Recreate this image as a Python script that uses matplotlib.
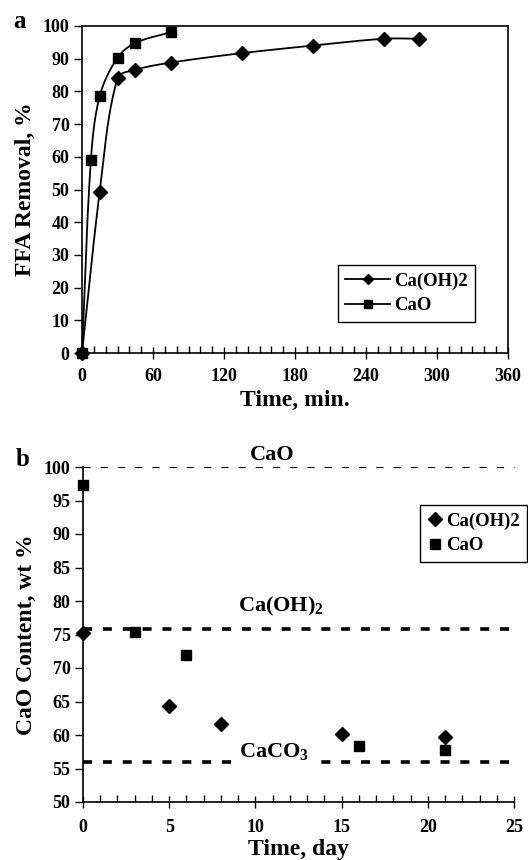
import numpy as np
import matplotlib
matplotlib.use("Agg")
import matplotlib.pyplot as plt
from matplotlib.ticker import MultipleLocator

plt.rcParams['font.family'] = ['Liberation Serif', 'DejaVu Serif']
plt.rcParams['font.weight'] = 'bold'
plt.rcParams['axes.labelweight'] = 'bold'
plt.rcParams['mathtext.fontset'] = 'custom'
plt.rcParams['mathtext.rm'] = 'Liberation Serif:bold'
plt.rcParams['mathtext.bf'] = 'Liberation Serif:bold'
plt.rcParams['mathtext.it'] = 'Liberation Serif:bold:italic'

# Panel a data
a_t_caoh2 = [0, 15, 30, 45, 75, 135, 195, 255, 285]
a_y_caoh2 = [0, 49.3, 84.0, 86.6, 88.8, 91.7, 94.0, 96.1, 96.1]
a_t_cao = [0, 7.5, 15, 30, 45, 75]
a_y_cao = [0, 59.0, 78.6, 90.3, 94.8, 98.1]

# Panel b data
b_d_caoh2 = [0, 5, 8, 15, 21]
b_y_caoh2 = [75.2, 64.4, 61.7, 60.2, 59.7]
b_d_cao = [0, 3, 6, 16, 21]
b_y_cao = [97.3, 75.3, 72.0, 58.3, 57.8]
ref_levels = [100, 75.8, 56.0]
ref_names = ['CaO', 'Ca(OH)$_\\mathbf{2}$', 'CaCO$_\\mathbf{3}$']


def smooth(ax, x, y, n=40):
    """Excel-like smoothed line computed in display space."""
    pts = ax.transData.transform(np.column_stack([x, y]))
    P = np.vstack([pts[0], pts, pts[-1]])
    out = []
    for i in range(1, len(P) - 2):
        p0, p3 = P[i], P[i + 1]
        L = np.linalg.norm(p3 - p0)
        t0 = P[i + 1] - P[i - 1]
        t1 = P[i + 2] - P[i]
        t0 = t0 / (np.linalg.norm(t0) or 1)
        t1 = t1 / (np.linalg.norm(t1) or 1)
        p1 = p0 + t0 * L / 3
        p2 = p3 - t1 * L / 3
        t = np.linspace(0, 1, n)[:, None]
        seg = (1 - t) ** 3 * p0 + 3 * (1 - t) ** 2 * t * p1 + 3 * (1 - t) * t ** 2 * p2 + t ** 3 * p3
        out.append(seg)
    out = np.vstack(out)
    d = ax.transData.inverted().transform(out)
    return d[:, 0], d[:, 1]


fig = plt.figure(figsize=(5.28, 8.6), dpi=100)

TICK = 13
LAB = 17

# ---------- Panel a ----------
ax = fig.add_axes([82 / 528, 1 - 353 / 860, 426 / 528, 327 / 860])
ax.set_xlim(0, 360)
ax.set_ylim(0, 100)
for xs, ys, m, ms, lab in [(a_t_caoh2, a_y_caoh2, 'D', 7, 'Ca(OH)2'),
                           (a_t_cao, a_y_cao, 's', 7.5, 'CaO')]:
    sx, sy = smooth(ax, xs, ys)
    ax.plot(sx, sy, color='black', lw=1.3, clip_on=False)
    ax.plot(xs, ys, linestyle='none', marker=m, ms=ms, color='black', clip_on=False)
    ax.plot([], [], color='black', lw=1.3, marker=m, ms=ms - 1.5, label=lab)
ax.xaxis.set_major_locator(MultipleLocator(60))
ax.xaxis.set_minor_locator(MultipleLocator(10))
ax.yaxis.set_major_locator(MultipleLocator(10))
ax.tick_params(axis='x', which='major', direction='inout', length=9, width=1, labelsize=TICK, pad=6)
ax.tick_params(axis='x', which='minor', direction='in', length=5, width=1)
ax.tick_params(axis='y', which='major', direction='out', length=6, width=1, labelsize=TICK, pad=3)
for lab in ax.get_xticklabels() + ax.get_yticklabels():
    lab.set_fontweight('bold')
for s in ax.spines.values():
    s.set_linewidth(1.2)
ax.set_xlabel('Time, min.', fontsize=LAB, fontweight='bold', labelpad=4)
ax.set_ylabel('FFA Removal, %', fontsize=LAB, fontweight='bold', labelpad=5)
leg = ax.legend(loc='upper right', bbox_to_anchor=(0.923, 0.269), fancybox=False,
                edgecolor='black', framealpha=1, handlelength=2.4, borderaxespad=0,
                prop={'weight': 'bold', 'size': 13.5}, handletextpad=0.2, labelspacing=0.4,
                borderpad=0.4)
leg.get_frame().set_linewidth(1.0)
fig.text(20 / 528, 1 - 22 / 860, 'a', fontsize=18, fontweight='bold', ha='center', va='center')

# ---------- Panel b ----------
bx = fig.add_axes([83 / 528, 1 - 802 / 860, 431 / 528, 335 / 860])
bx.plot(b_d_caoh2, b_y_caoh2, linestyle='none', marker='D', ms=7.5, color='black',
        label='Ca(OH)2', clip_on=False, zorder=4)
bx.plot(b_d_cao, b_y_cao, linestyle='none', marker='s', ms=6.5, color='black',
        label='CaO', clip_on=False, zorder=4)
bx.axhline(ref_levels[0], color='black', lw=0.8, linestyle=(0, (6.5, 9)), clip_on=False)
bx.axhline(ref_levels[1], color='black', lw=2.6, linestyle=(0, (2.5, 3.0)), clip_on=False)
bx.axhline(ref_levels[2], color='black', lw=2.6, linestyle=(0, (2.5, 3.0)), clip_on=False)
bx.text(11.0, 101.8, ref_names[0], fontsize=16, fontweight='bold', ha='center', va='center')
bx.text(11.5, 79.2, ref_names[1], fontsize=16, fontweight='bold', ha='center', va='center')
bx.text(11.1, 57.5, ref_names[2], fontsize=16, fontweight='bold', ha='center', va='center',
        bbox=dict(facecolor='white', edgecolor='none', pad=1.5), zorder=5)
bx.set_xlim(0, 25)
bx.set_ylim(50, 100)
bx.xaxis.set_major_locator(MultipleLocator(5))
bx.xaxis.set_minor_locator(MultipleLocator(1))
bx.yaxis.set_major_locator(MultipleLocator(5))
bx.spines['top'].set_visible(False)
bx.spines['right'].set_visible(False)
for s in bx.spines.values():
    s.set_linewidth(1.2)
bx.tick_params(axis='x', which='major', direction='inout', length=9, width=1, labelsize=TICK, pad=8)
bx.tick_params(axis='x', which='minor', direction='in', length=5, width=1)
bx.tick_params(axis='y', which='major', direction='out', length=6, width=1, labelsize=TICK, pad=3)
for lab in bx.get_xticklabels() + bx.get_yticklabels():
    lab.set_fontweight('bold')
bx.set_xlabel('Time, day', fontsize=LAB, fontweight='bold', labelpad=2)
bx.set_ylabel('CaO Content, wt %', fontsize=LAB, fontweight='bold', labelpad=5)
leg2 = bx.legend(loc='upper left', bbox_to_anchor=(0.782, 0.887), fancybox=False,
                 edgecolor='black', framealpha=1, handlelength=0.8, borderaxespad=0,
                 prop={'weight': 'bold', 'size': 13.5}, handletextpad=0.2, labelspacing=0.4,
                 borderpad=0.4)
leg2.get_frame().set_linewidth(1.0)
fig.text(23 / 528, 1 - 460 / 860, 'b', fontsize=18, fontweight='bold', ha='center', va='center')

fig.savefig('out.png', dpi=100)
